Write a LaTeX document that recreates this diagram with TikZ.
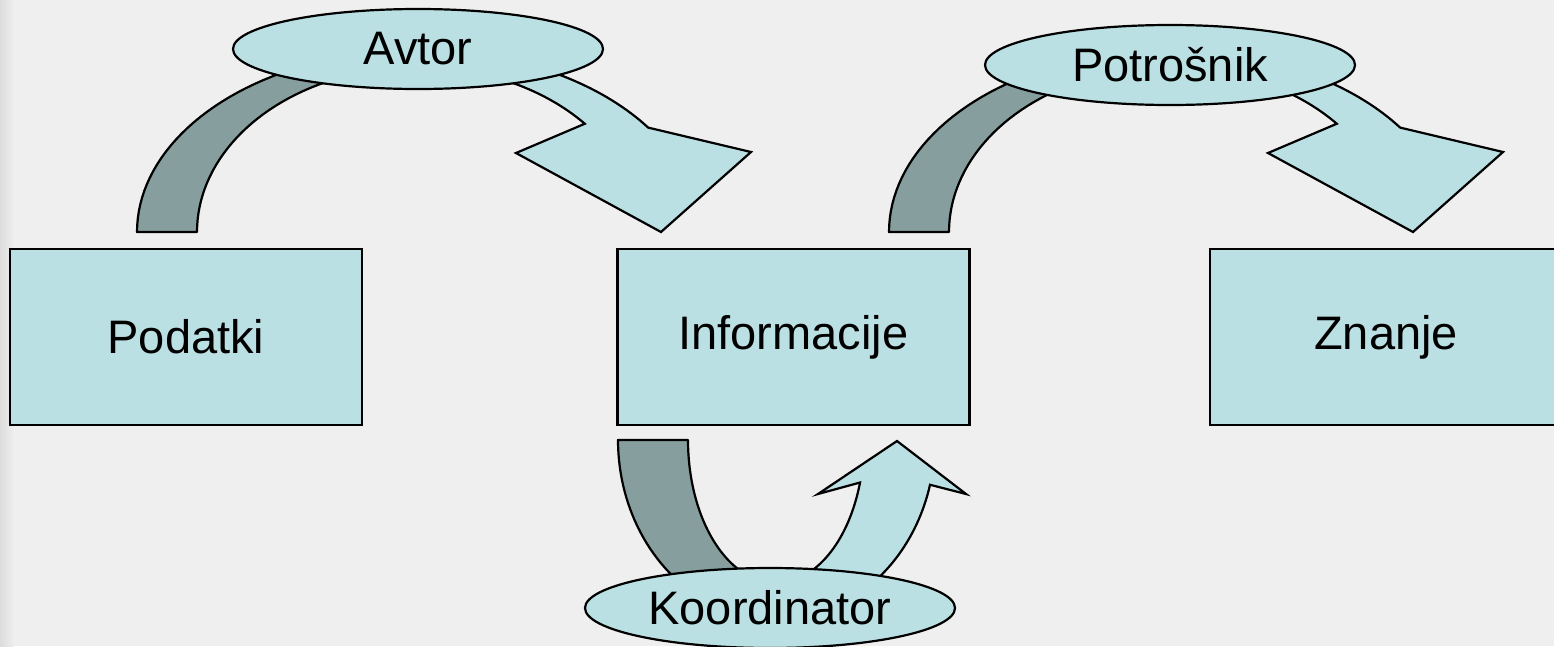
\documentclass[tikz,border=0pt]{standalone}
\usepackage{fontspec}
\setmainfont{Liberation Sans}
\usetikzlibrary{shapes.geometric}

\definecolor{boxblue}{HTML}{BBE0E3}
\definecolor{arcgrey}{HTML}{869E9E}
\definecolor{paper}{HTML}{EFEFEF}
\definecolor{paperedge}{HTML}{DCDCDC}

\tikzset{
  stage/.style={draw=black, line width=2.6pt, fill=boxblue, rectangle,
    minimum width=352, minimum height=176, inner sep=0pt,
    font=\fontsize{47}{56}\selectfont},
  role/.style={draw=black, line width=2.2pt, fill=boxblue, ellipse,
    minimum width=370, minimum height=80, inner sep=0pt,
    font=\fontsize{47}{56}\selectfont},
  greyband/.style={draw=black, line width=2.2pt, fill=arcgrey, line join=round},
  blueband/.style={draw=black, line width=2.2pt, fill=boxblue, line join=miter},
}

\begin{document}
\begin{tikzpicture}[x=1pt, y=-1pt]
  % canvas
  \fill[paper] (0,0) rectangle (1554,646);
  \shade[left color=paperedge, right color=paper] (0,0) rectangle (14,646);
  \useasboundingbox (0,0) rectangle (1554,646);

  % upper block arcs: grey rising part and light arrow part, drawn twice
  \foreach \dx in {0,752} {
    \begin{scope}[shift={(\dx,0)}]
      \draw[greyband]
        plot[domain=180:95, samples=40] ({418+281*cos(\x)},{232-182*sin(\x)})
        -- plot[domain=95:180, samples=40] ({418+221*cos(\x)},{232-165*sin(\x)})
        -- cycle;
      \draw[blueband]
        plot[domain=90:35, samples=40] ({418+281*cos(\x)},{232-182*sin(\x)})
        -- (751,152) -- (661,232) -- (516,153)
        -- plot[domain=41:90, samples=40] ({418+221*cos(\x)},{232-165*sin(\x)})
        -- cycle;
    \end{scope}
  }

  % lower loop below the middle box
  \draw[greyband]
    plot[domain=180:100, samples=40] ({776.5+158.5*cos(\x)},{440+180*sin(\x)})
    -- plot[domain=100:180, samples=40] ({776+88*cos(\x)},{440+143*sin(\x)})
    -- cycle;
  \draw[blueband]
    plot[domain=80:14.4, samples=40] ({776.5+158.5*cos(\x)},{440+180*sin(\x)})
    -- (966,494) -- (897,441) -- (818,494)
    -- plot[domain=17.3:80, samples=40] ({776+88*cos(\x)},{440+143*sin(\x)})
    -- cycle;

  % stages
  \node[stage] (podatki) at (186,337) {Podatki};
  \node[stage] (informacije) at (793.5,337) {Informacije};
  \node[stage] (znanje) at (1386,337) {Znanje};

  % roles
  \node[role] (avtor) at (418,49) {Avtor};
  \node[role] (potrosnik) at (1170,65) {Potrošnik};
  \node[role] (koordinator) at (770,608) {Koordinator};
\end{tikzpicture}
\end{document}
